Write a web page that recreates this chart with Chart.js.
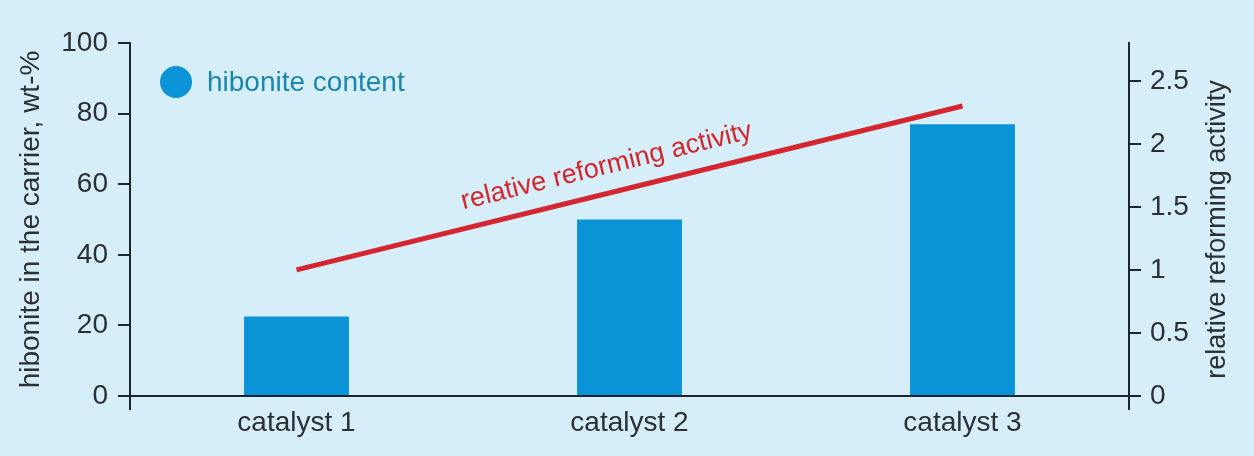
<!DOCTYPE html>
<html>
<head>
<meta charset="utf-8">
<script src="https://cdn.jsdelivr.net/npm/chart.js@4"></script>
<style>
  html,body{margin:0;padding:0;background:#d5eef9;}
  #wrap{width:1254px;height:456px;position:relative;}
</style>
</head>
<body>
<div id="wrap"><canvas id="c"></canvas></div>
<script>
/* ====== DATA ====== */
const categories = ['catalyst 1','catalyst 2','catalyst 3'];
const hiboniteContent = [22.5, 50, 77];       // wt-%, left axis
const reformingActivity = [1.0, 1.65, 2.3];   // relative, right axis
const leftTicks = [0, 20, 40, 60, 80, 100];
const rightTicks = [0, 0.5, 1, 1.5, 2, 2.5];

/* ====== STYLE ====== */
const BG = '#d5eef9', BAR = '#0a93d6', RED = '#d4262f', AXIS = '#1c2630', TXT = '#2c3034';
const FONT = '"Liberation Sans", Arial, sans-serif';

// background + extra drawing (legend, line label, right title, axis stubs)
const decor = {
  id:'decor',
  beforeDraw(ch){
    const c=ch.ctx; c.save(); c.fillStyle=BG; c.fillRect(0,0,ch.width,ch.height); c.restore();
  },
  afterDraw(ch){
    const c=ch.ctx, a=ch.chartArea;
    c.save();
    // vertical axes run a little below the baseline
    c.strokeStyle=AXIS; c.lineWidth=2;
    c.beginPath();
    c.moveTo(a.left,a.bottom); c.lineTo(a.left,a.bottom+14);
    c.moveTo(a.right,a.bottom); c.lineTo(a.right,a.bottom+14);
    c.stroke();

    // legend for the bars
    const bar=ch.data.datasets[0];
    c.fillStyle=bar.backgroundColor;
    c.beginPath(); c.arc(176,82,16,0,Math.PI*2); c.fill();
    c.fillStyle='#1b87ad'; c.font=`28px ${FONT}`; c.textBaseline='middle'; c.textAlign='left';
    c.fillText(bar.label,207,83);

    // label along the red line
    const pts=ch.getDatasetMeta(1).data, p0=pts[0], p2=pts[pts.length-1];
    const ang=Math.atan2(p2.y-p0.y,p2.x-p0.x), t=0.475;
    c.translate(p0.x+(p2.x-p0.x)*t, p0.y+(p2.y-p0.y)*t);
    c.rotate(ang);
    c.fillStyle=RED; c.font=`27px ${FONT}`; c.textAlign='center'; c.textBaseline='alphabetic';
    c.fillText(ch.data.datasets[1].label,0,-19);
    c.setTransform(1,0,0,1,0,0);

    // right axis title, reading bottom to top
    c.translate(1218,(a.top+a.bottom)/2+10);
    c.rotate(-Math.PI/2);
    c.fillStyle=TXT; c.font=`27px ${FONT}`; c.textAlign='center'; c.textBaseline='middle';
    c.fillText('relative reforming activity',0,0);
    c.restore();
  }
};

new Chart(document.getElementById('c').getContext('2d'),{
  data:{
    labels:categories,
    datasets:[
      {type:'bar',label:'hibonite content',data:hiboniteContent,backgroundColor:BAR,
       yAxisID:'y',barPercentage:0.315,categoryPercentage:1,order:2},
      {type:'line',label:'relative reforming activity',data:reformingActivity,borderColor:RED,
       borderWidth:5,pointRadius:0,tension:0,yAxisID:'y1',order:1,borderCapStyle:'butt'}
    ]
  },
  options:{
    responsive:true,maintainAspectRatio:false,animation:false,
    layout:{padding:{top:43,left:0,right:0,bottom:0}},
    plugins:{legend:{display:false},tooltip:{enabled:false}},
    scales:{
      x:{
        offset:true,
        grid:{display:false,drawTicks:false},
        border:{display:true,color:AXIS,width:2},
        ticks:{color:TXT,font:{size:28,family:FONT},padding:10},
        afterFit:s=>{ s.height=60; }
      },
      y:{
        position:'left',min:0,max:100,
        afterBuildTicks:s=>{ s.ticks=leftTicks.map(v=>({value:v})); },
        grid:{drawOnChartArea:false,tickLength:12,tickColor:AXIS,lineWidth:2},
        border:{display:true,color:AXIS,width:2},
        ticks:{color:TXT,font:{size:28,family:FONT},padding:10},
        title:{display:true,text:'hibonite in the carrier, wt-%',color:TXT,
               font:{size:28,family:FONT},padding:{top:14,bottom:0}},
        afterFit:s=>{ s.width=130; }
      },
      y1:{
        position:'right',min:0,max:2.8,
        afterBuildTicks:s=>{ s.ticks=rightTicks.map(v=>({value:v})); },
        grid:{drawOnChartArea:false,tickLength:12,tickColor:AXIS,lineWidth:2},
        border:{display:true,color:AXIS,width:2},
        ticks:{color:TXT,font:{size:28,family:FONT},padding:9,callback:v=>String(v)},
        afterFit:s=>{ s.width=125; }
      }
    }
  },
  plugins:[decor]
});
</script>
</body>
</html>
